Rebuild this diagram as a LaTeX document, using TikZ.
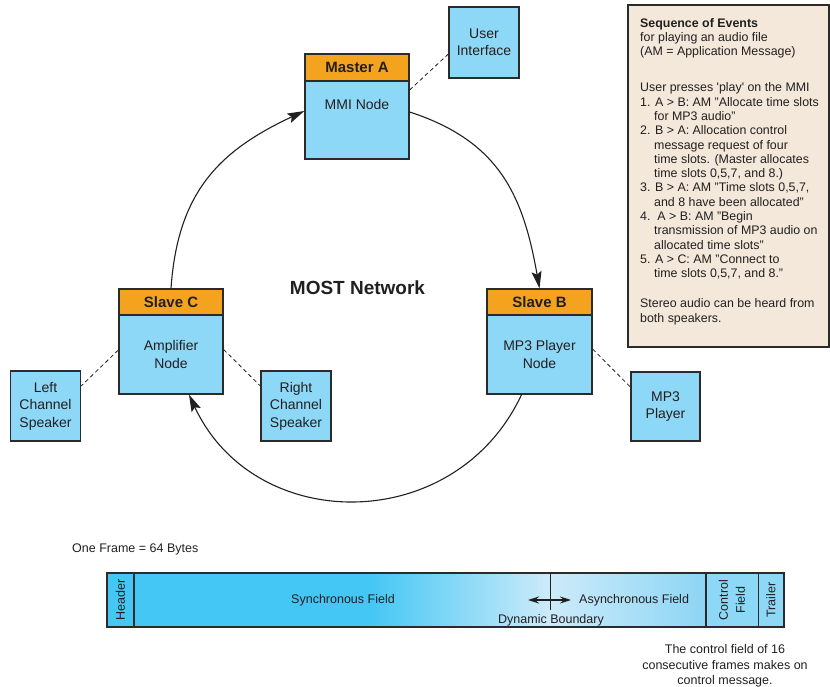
\documentclass[tikz,border=0pt]{standalone}
\usepackage{fontspec}
\setmainfont{Liberation Sans}
\usetikzlibrary{arrows.meta,calc}
\definecolor{orng}{HTML}{F4A31E}
\definecolor{nodeblue}{HTML}{8DD8F6}
\definecolor{bordc}{HTML}{2B2B2B}
\definecolor{seqfill}{HTML}{F3E8DA}
\definecolor{fcyan}{HTML}{44C7F4}
\definecolor{flight}{HTML}{CDEBFA}
\definecolor{fmid}{HTML}{8CD5F4}
\definecolor{inkc}{HTML}{231F20}
\begin{document}
\begin{tikzpicture}[x=1pt,y=1pt,
  bodybox/.style={draw=bordc,line width=1.3pt,fill=nodeblue,inner sep=0pt,align=center,
    font=\fontsize{14}{17.5}\selectfont,text=inkc},
  hdrbox/.style={draw=bordc,line width=1.3pt,fill=orng,inner sep=0pt,
    font=\bfseries\fontsize{15}{18}\selectfont,text=inkc},
  ringarc/.style={draw=inkc,line width=1.1pt,-{Stealth[length=17pt,width=10pt,inset=3pt]}},
  dashlink/.style={draw=inkc,line width=0.8pt,dash pattern=on 4pt off 3pt},
  ftxt/.style={inner sep=0pt,font=\fontsize{12.5}{15.5}\selectfont,text=inkc},
]
\useasboundingbox (0,0) rectangle (830,-687);

% ring nodes
\node[bodybox,minimum width=104pt,minimum height=78pt] (Abody) at (357,-120) {};
\node[hdrbox,minimum width=104pt,minimum height=27pt] (Ahead) at (357,-67.5) {Master A};
\node[inner sep=0pt,font=\fontsize{14}{17.5}\selectfont,text=inkc] (Atext) at (357,-104) {MMI Node};

\node[bodybox,minimum width=104pt,minimum height=79pt] (Cbody) at (171,-354.5) {Amplifier\\Node};
\node[hdrbox,minimum width=104pt,minimum height=26pt] (Chead) at (171,-302) {Slave C};

\node[bodybox,minimum width=105pt,minimum height=79pt] (Bbody) at (539.5,-354.5) {MP3 Player\\Node};
\node[hdrbox,minimum width=105pt,minimum height=26pt] (Bhead) at (539.5,-302) {Slave B};

% peripheral boxes
\node[bodybox,minimum width=70pt,minimum height=71pt] (UI) at (484,-42.5) {User\\Interface};
\node[bodybox,minimum width=70pt,minimum height=70pt] (LS) at (45.5,-406) {Left\\Channel\\Speaker};
\node[bodybox,minimum width=70pt,minimum height=70pt] (RS) at (296,-406) {Right\\Channel\\Speaker};
\node[bodybox,minimum width=69pt,minimum height=69pt] (MP) at (665.5,-406.5) {MP3\\Player};

% dashed links
\draw[dashlink] ([yshift=30pt]Abody.east) -- ([yshift=-11.5pt]UI.west);
\draw[dashlink] ([yshift=4.5pt]Cbody.west) -- ([yshift=20pt]LS.east);
\draw[dashlink] ([yshift=5pt]Cbody.east) -- ([yshift=20pt]RS.west);
\draw[dashlink] ([yshift=5.5pt]Bbody.east) -- ([yshift=19.5pt]MP.west);

% ring arcs
\draw[ringarc] (Chead.north) to[out=86,in=205,looseness=1.1] ([yshift=9pt]Abody.west);
\draw[ringarc] ([yshift=8pt]Abody.east) to[out=-18,in=100,looseness=1.1] (Bhead.north);
\draw[ringarc] ([xshift=-18pt]Bbody.south) to[out=-115,in=-65,looseness=1.2] ([xshift=18pt]Cbody.south);

\node[inner sep=0pt,font=\bfseries\fontsize{19}{22}\selectfont,text=inkc] (most) at (357.5,-288) {MOST Network};

% sequence box
\node[draw=bordc,line width=1.2pt,fill=seqfill,minimum width=201pt,minimum height=342pt,inner sep=0pt] (seq) at (728.5,-176) {};
\node[anchor=north west,inner sep=0pt,align=left,text=inkc,font=\fontsize{12.4}{14.3}\selectfont] (seqtxt) at (640,-17)
{\strut\textbf{Sequence of Events}\\
for playing an audio file\\
(AM = Application Message)\\[21.7pt]
User presses \textquotesingle play\textquotesingle\ on the MMI\\
1. A > B: AM "Allocate time slots\\
\hspace*{14pt}for MP3 audio"\\
2. B > A: Allocation control\\
\hspace*{14pt}message request of four\\
\hspace*{14pt}time slots. (Master allocates\\
\hspace*{14pt}time slots 0,5,7, and 8.)\\
3. B > A: AM "Time slots 0,5,7,\\
\hspace*{14pt}and 8 have been allocated"\\
4.\ \ A > B: AM "Begin\\
\hspace*{14pt}transmission of MP3 audio on\\
\hspace*{14pt}allocated time slots"\\
5. A > C: AM "Connect to\\
\hspace*{14pt}time slots 0,5,7, and 8."\\[15.7pt]
Stereo audio can be heard from\\
both speakers.};

% frame
\node[ftxt,anchor=west] (oneframe) at (72,-549) {One Frame = 64 Bytes};
\fill[fcyan] (107,-573) rectangle (370,-627);
\shade[left color=fcyan,right color=flight] (370,-573) rectangle (550,-627);
\shade[left color=flight,right color=fmid] (550,-573) rectangle (706,-627);
\fill[nodeblue] (706,-573) rectangle (784,-627);
\node[draw=bordc,line width=1.3pt,minimum width=677pt,minimum height=54pt,inner sep=0pt] (frame) at (445.5,-600) {};
\draw[bordc,line width=2.6pt] (134,-573) -- (134,-627);
\draw[bordc,line width=2.6pt] (706,-573) -- (706,-627);
\draw[bordc,line width=1.2pt] (758.5,-573) -- (758.5,-627);
\draw[inkc,line width=1pt] (550,-573) -- (550,-610);
\draw[inkc,line width=1.2pt,{Stealth[length=11pt,width=7pt]}-{Stealth[length=11pt,width=7pt]}] (528,-600) -- (571,-600);

\node[ftxt,rotate=90] (hdrtxt) at (120.5,-600) {Header};
\node[ftxt] (sync) at (343,-600) {Synchronous Field};
\node[ftxt,anchor=west] (async) at (579,-600) {Asynchronous Field};
\node[ftxt] (dyn) at (551,-620) {Dynamic Boundary};
\node[ftxt,rotate=90,align=center,font=\fontsize{12.5}{17}\selectfont] (ctrl) at (732,-600) {Control\\Field};
\node[ftxt,rotate=90] (trl) at (771,-600) {Trailer};

\node[ftxt,align=center] (note) at (725,-666) {The control field of 16\\consecutive frames makes on\\control message.};
\end{tikzpicture}
\end{document}
